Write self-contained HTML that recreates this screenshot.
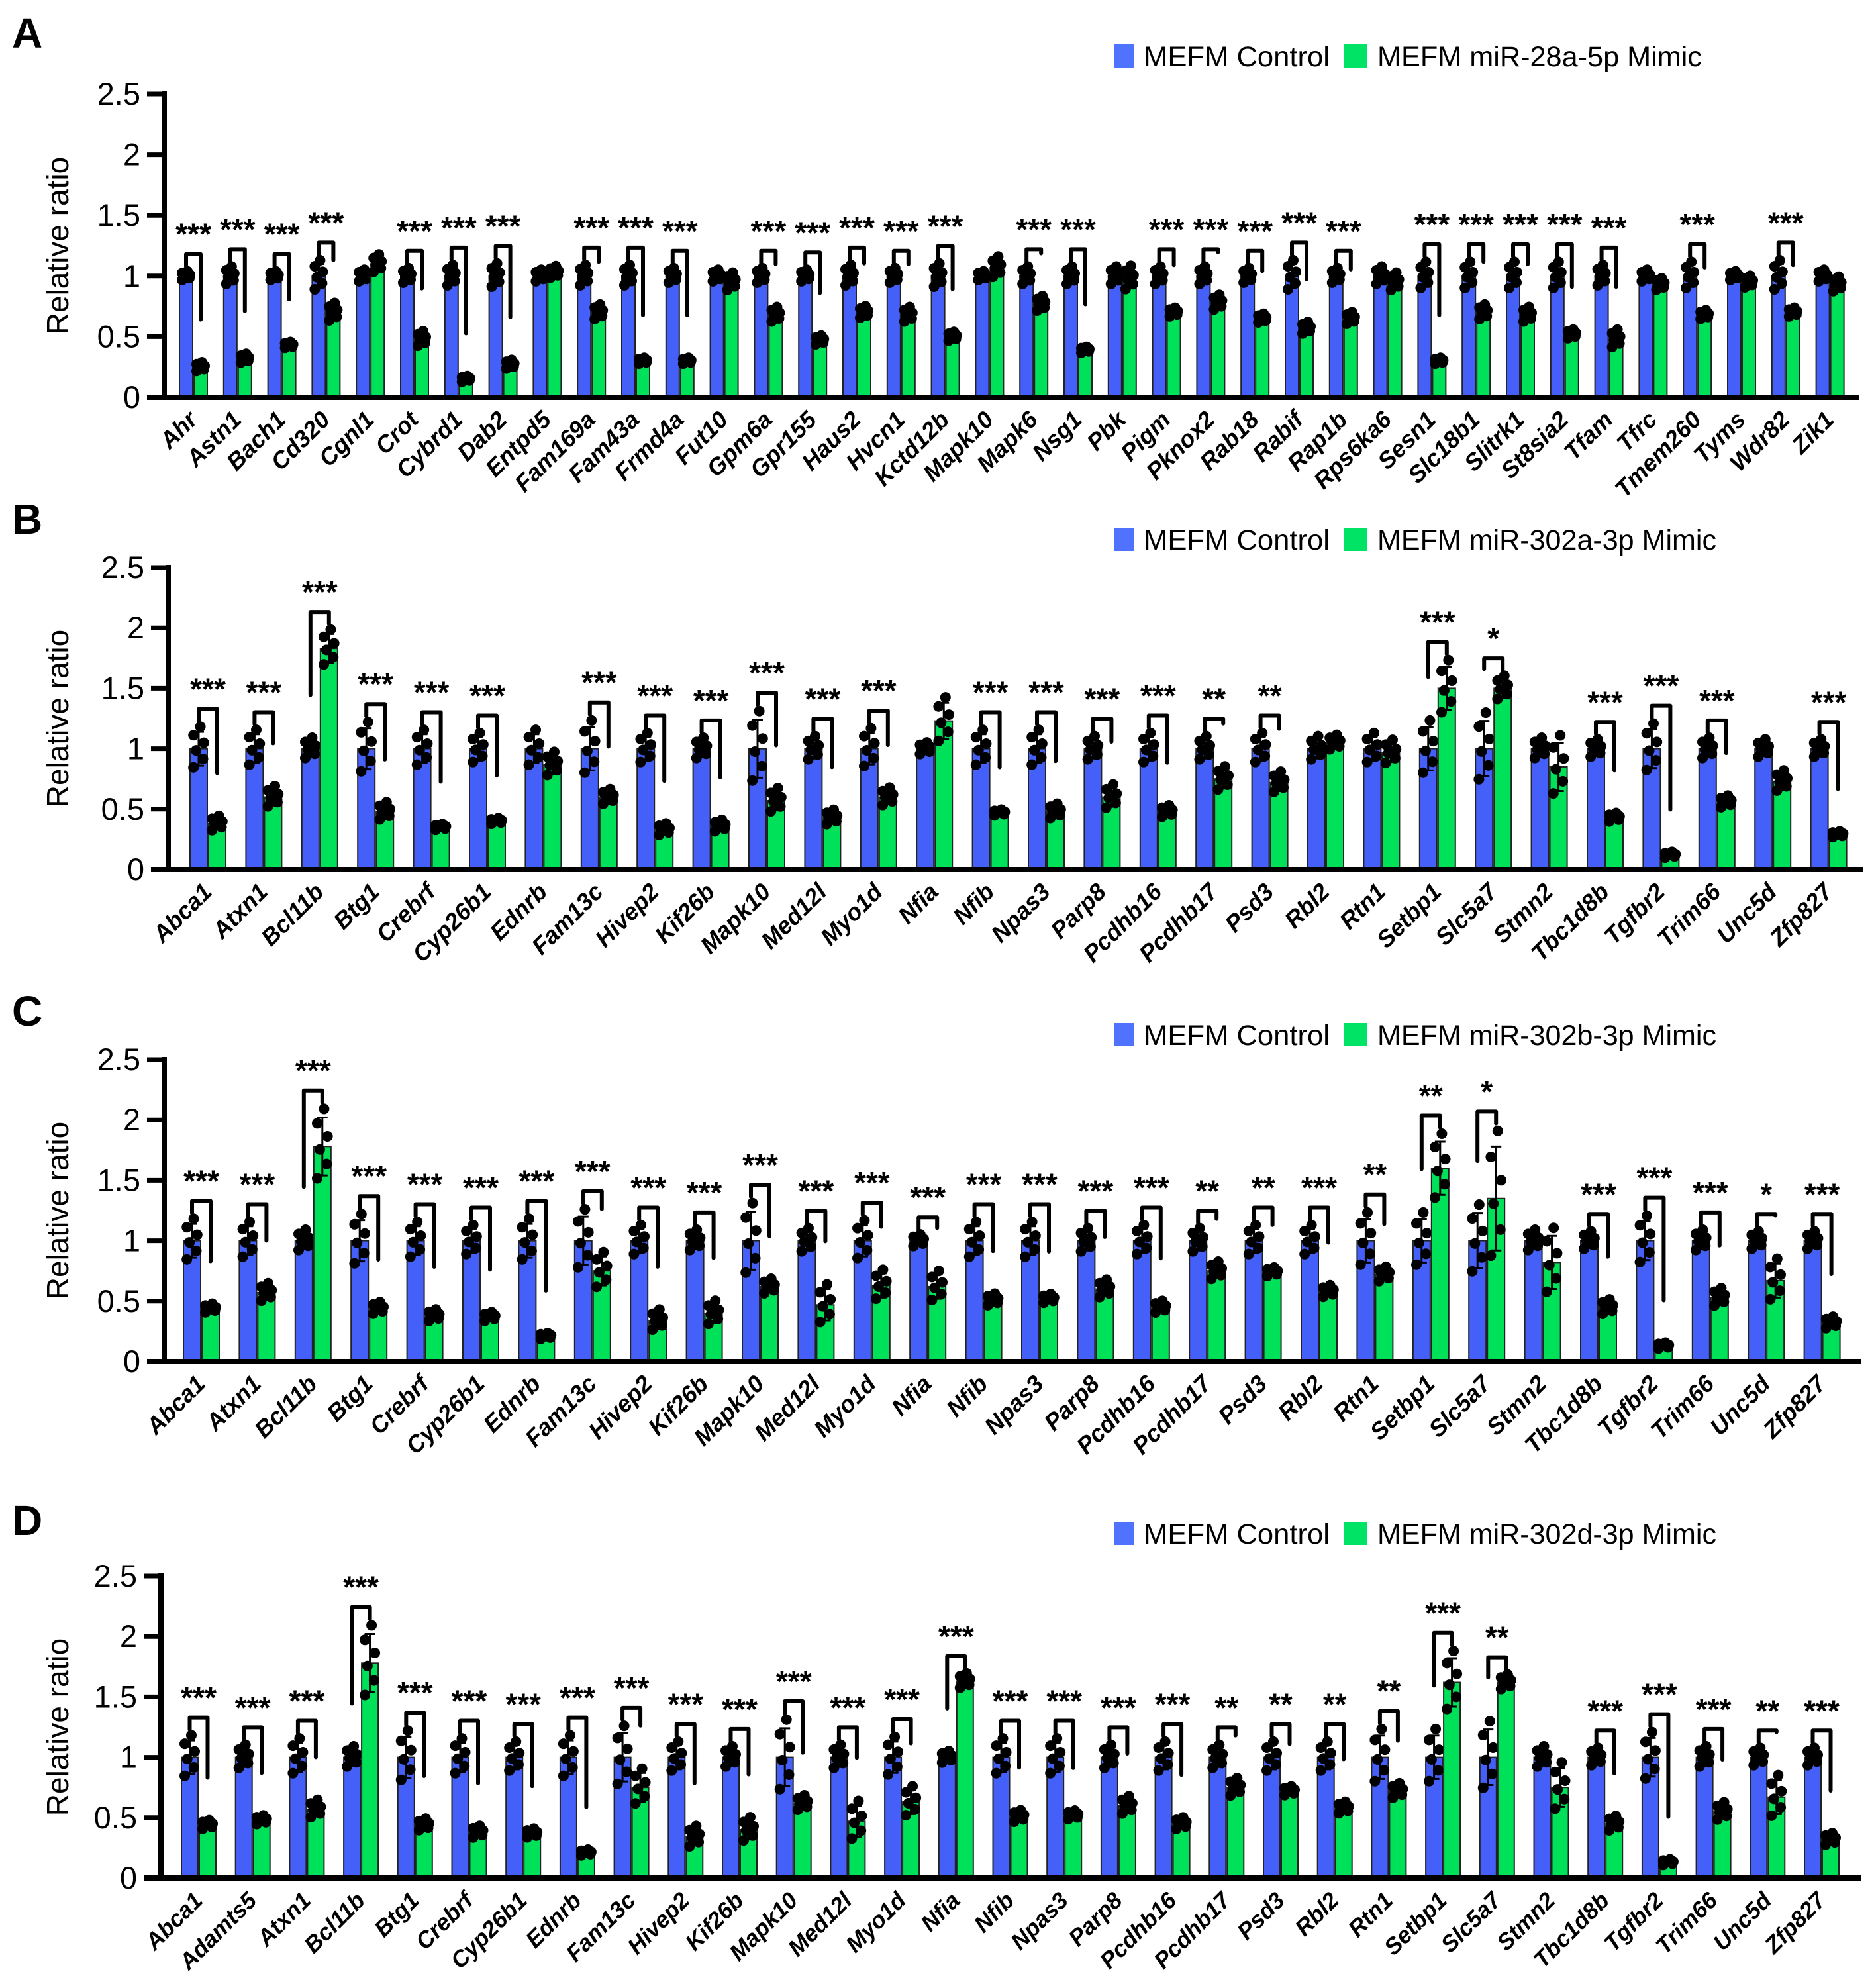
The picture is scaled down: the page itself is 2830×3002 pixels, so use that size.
<!DOCTYPE html>
<html><head><meta charset="utf-8">
<style>
html,body{margin:0;padding:0;background:#fff;}
svg{display:block;}
text{font-family:"Liberation Sans",Arial,sans-serif;}
</style></head>
<body>
<svg id="fig" width="2830" height="3002" viewBox="0 0 2830 3002" xmlns="http://www.w3.org/2000/svg"></svg>
<script>
// ---------- Panel A data ----------
const aGenes=["Ahr","Astn1","Bach1","Cd320","Cgnl1","Crot","Cybrd1","Dab2","Entpd5","Fam169a","Fam43a","Frmd4a","Fut10","Gpm6a","Gpr155","Haus2","Hvcn1","Kctd12b","Mapk10","Mapk6","Nsg1","Pbk","Pigm","Pknox2","Rab18","Rabif","Rap1b","Rps6ka6","Sesn1","Slc18b1","Slitrk1","St8sia2","Tfam","Tfrc","Tmem260","Tyms","Wdr82","Zik1"];
const aCtrl=[1,1,1,1,1,1,1,1,1,1,1,1,1,1,1,1,1,1,1,1,1,1,1,1,1,1,1,1,1,1,1,1,1,1,1,1,1,1];
const aCtrlSd=[0.03,0.06,0.03,0.1,0.04,0.05,0.07,0.08,0.04,0.07,0.07,0.05,0.04,0.05,0.04,0.07,0.05,0.08,0.03,0.06,0.06,0.06,0.06,0.06,0.05,0.1,0.05,0.06,0.09,0.09,0.09,0.09,0.07,0.04,0.09,0.03,0.1,0.04];
const aMimic=[0.25,0.32,0.43,0.70,1.10,0.48,0.15,0.27,1.03,0.70,0.30,0.30,0.95,0.68,0.47,0.70,0.68,0.50,1.07,0.77,0.39,0.98,0.70,0.78,0.65,0.57,0.65,0.95,0.30,0.70,0.68,0.52,0.48,0.93,0.68,0.95,0.70,0.93];
const aMimicSd=[0.03,0.03,0.02,0.06,0.06,0.05,0.02,0.03,0.04,0.05,0.02,0.02,0.06,0.05,0.03,0.04,0.05,0.03,0.07,0.05,0.02,0.08,0.03,0.05,0.03,0.04,0.04,0.06,0.02,0.05,0.05,0.03,0.06,0.04,0.03,0.04,0.03,0.05];
const aSig=["***","***","***","***","","***","***","***","","***","***","***","","***","***","***","***","***","","***","***","","***","***","***","***","***","","***","***","***","***","***","","***","","***",""];

// ---------- Panel B data ----------
const bGenes=["Abca1","Atxn1","Bcl11b","Btg1","Crebrf","Cyp26b1","Ednrb","Fam13c","Hivep2","Kif26b","Mapk10","Med12l","Myo1d","Nfia","Nfib","Npas3","Parp8","Pcdhb16","Pcdhb17","Psd3","Rbl2","Rtn1","Setbp1","Slc5a7","Stmn2","Tbc1d8b","Tgfbr2","Trim66","Unc5d","Zfp827"];
const bCtrl=[1,1,1,1,1,1,1,1,1,1,1,1,1,1,1,1,1,1,1,1,1,1,1,1,1,1,1,1,1,1];
const bCtrlSd=[0.14,0.12,0.07,0.17,0.12,0.1,0.12,0.18,0.1,0.07,0.24,0.08,0.13,0.04,0.12,0.12,0.08,0.1,0.08,0.1,0.08,0.1,0.18,0.23,0.07,0.06,0.16,0.07,0.06,0.06];
const bMimic=[0.38,0.60,1.83,0.48,0.35,0.40,0.87,0.60,0.33,0.36,0.57,0.43,0.60,1.23,0.47,0.48,0.60,0.48,0.75,0.72,1.05,0.97,1.50,1.50,0.85,0.43,0.12,0.56,0.73,0.29];
const bMimicSd=[0.05,0.07,0.12,0.06,0.02,0.02,0.08,0.05,0.04,0.04,0.08,0.05,0.06,0.15,0.02,0.05,0.08,0.04,0.08,0.07,0.05,0.08,0.18,0.08,0.2,0.03,0.02,0.04,0.07,0.02];
const bSig=["***","***","***","***","***","***","","***","***","***","***","***","***","","***","***","***","***","**","**","","","***","*","","***","***","***","","***"];

// ---------- Panel C data ----------
const cGenes=["Abca1","Atxn1","Bcl11b","Btg1","Crebrf","Cyp26b1","Ednrb","Fam13c","Hivep2","Kif26b","Mapk10","Med12l","Myo1d","Nfia","Nfib","Npas3","Parp8","Pcdhb16","Pcdhb17","Psd3","Rbl2","Rtn1","Setbp1","Slc5a7","Stmn2","Tbc1d8b","Tgfbr2","Trim66","Unc5d","Zfp827"];
const cCtrl=[1,1,1,1,1,1,1,1,1,1,1,1,1,1,1,1,1,1,1,1,1,1,1,1,1,1,1,1,1,1];
const cCtrlSd=[0.14,0.12,0.07,0.17,0.12,0.1,0.14,0.2,0.1,0.07,0.24,0.08,0.13,0.04,0.12,0.12,0.08,0.1,0.08,0.1,0.1,0.18,0.18,0.23,0.07,0.06,0.16,0.07,0.06,0.06];
const cMimic=[0.44,0.57,1.78,0.44,0.38,0.37,0.21,0.75,0.34,0.40,0.62,0.47,0.63,0.62,0.51,0.52,0.60,0.45,0.75,0.74,0.58,0.72,1.60,1.35,0.82,0.45,0.13,0.53,0.67,0.32];
const cMimicSd=[0.03,0.06,0.24,0.04,0.04,0.03,0.02,0.12,0.07,0.08,0.05,0.13,0.1,0.1,0.04,0.03,0.06,0.04,0.06,0.03,0.04,0.05,0.22,0.43,0.22,0.05,0.02,0.06,0.14,0.04];
const cSig=["***","***","***","***","***","***","***","***","***","***","***","***","***","***","***","***","***","***","**","**","***","**","**","*","","***","***","***","*","***"];

// ---------- Panel D data ----------
const dGenes=["Abca1","Adamts5","Atxn1","Bcl11b","Btg1","Crebrf","Cyp26b1","Ednrb","Fam13c","Hivep2","Kif26b","Mapk10","Med12l","Myo1d","Nfia","Nfib","Npas3","Parp8","Pcdhb16","Pcdhb17","Psd3","Rbl2","Rtn1","Setbp1","Slc5a7","Stmn2","Tbc1d8b","Tgfbr2","Trim66","Unc5d","Zfp827"];
const dCtrl=[1,1,1,1,1,1,1,1,1,1,1,1,1,1,1,1,1,1,1,1,1,1,1,1,1,1,1,1,1,1,1];
const dCtrlSd=[0.14,0.08,0.12,0.07,0.17,0.12,0.1,0.14,0.2,0.1,0.07,0.24,0.08,0.13,0.04,0.12,0.12,0.08,0.1,0.08,0.1,0.1,0.18,0.18,0.23,0.07,0.06,0.16,0.07,0.06,0.06];
const dMimic=[0.44,0.48,0.57,1.78,0.44,0.38,0.37,0.21,0.75,0.34,0.40,0.62,0.47,0.63,1.63,0.51,0.52,0.60,0.45,0.75,0.72,0.58,0.72,1.62,1.62,0.75,0.45,0.13,0.55,0.67,0.32];
const dMimicSd=[0.03,0.03,0.06,0.24,0.04,0.04,0.03,0.02,0.12,0.07,0.08,0.05,0.13,0.1,0.05,0.04,0.03,0.06,0.04,0.06,0.03,0.04,0.05,0.2,0.05,0.16,0.05,0.02,0.06,0.14,0.04];
const dSig=["***","***","***","***","***","***","***","***","***","***","***","***","***","***","***","***","***","***","***","**","**","**","**","***","**","","***","***","***","**","***"];

const yTicks=[0,0.5,1,1.5,2,2.5];
const yTickLabels=["0","0.5","1","1.5","2","2.5"];

const NS="http://www.w3.org/2000/svg";
const svg=document.getElementById('fig');
function mk(tag,attrs,parent){const e=document.createElementNS(NS,tag);for(const k in attrs)e.setAttribute(k,attrs[k]);(parent||svg).appendChild(e);return e;}
const BLUE="#4560F8",GREEN="#00E15A";
const dotPattern=[[-0.3,-1.1],[0.25,-0.6],[-0.15,-0.1],[0.3,0.35],[-0.3,0.8],[0.1,1.3]];

function drawPanel(p){
  const g=mk('g',{});
  
  
  const yS=v=>p.y0-(p.y0-p.yTop)*v/2.5;
  const xS=i=>p.first+i*p.step;
  const L=mk('text',{x:18,y:p.letterY,'font-size':64,'font-weight':'bold'},g);L.textContent=p.letter;
  
  
  const lg=mk('g',{},g);
  
  
  const r1=mk('rect',{x:1683,y:p.legY,width:30,height:35,fill:"#4F72FF"},lg);
  
  
  const t1=mk('text',{x:1727,y:p.legY+33,'font-size':43,textLength:281,lengthAdjust:'spacingAndGlyphs'},lg);t1.textContent="MEFM Control";
  
  
  const r2=mk('rect',{x:2030,y:p.legY,width:34,height:35,fill:"#00E364"},lg);
  
  
  const t2=mk('text',{x:2080,y:p.legY+33,'font-size':43,textLength:p.legW,lengthAdjust:'spacingAndGlyphs'},lg);t2.textContent=p.mimicName;
  
  
  const yt=mk('text',{x:0,y:0,'font-size':46,'text-anchor':'middle',transform:`translate(103,${(p.y0+p.yTop)/2}) rotate(-90)`},g);yt.textContent="Relative ratio";
  
  
  yTicks.forEach((v,i)=>{
    const tk=mk('line',{x1:p.axisX-26,x2:p.axisX,y1:yS(v),y2:yS(v),stroke:'#000','stroke-width':7},g);
    
    
    const tl=mk('text',{x:p.axisX-36,y:yS(v)+16,'font-size':47,'text-anchor':'end'},g);tl.textContent=yTickLabels[i];
    
    
  });
  const w=p.barW;
  p.genes.forEach((gn,i)=>{
    const x=xS(i);
    const series=[[p.ctrl[i],p.ctrlSd[i],BLUE,x],[p.mimic[i],p.mimicSd[i],GREEN,x+w+2]];
    series.forEach((s,k)=>{
      const [m,sd,col,bx]=s;
      const b=mk('rect',{x:bx,y:yS(m),width:w,height:p.y0-yS(m),fill:col,stroke:'#222','stroke-width':2},g);
      
      
      const cx=bx+w/2;
      const eb=mk('path',{d:`M${cx},${yS(m-sd)}V${yS(m+sd)}M${cx-8},${yS(m+sd)}H${cx+8}M${cx-8},${yS(m-sd)}H${cx+8}`,stroke:'#000','stroke-width':3,fill:'none'},g);
      
      
      dotPattern.forEach(d=>{
        const c=mk('circle',{cx:cx+d[0]*w,cy:yS(m+d[1]*sd),r:p.dotR,fill:'#000'},g);
        
        
      });
    });
    if(p.sig[i]){
      const cb=x+w/2, cg=x+w+2+w/2;
      const topB=p.ctrl[i]+1.35*p.ctrlSd[i], topG=p.mimic[i]+1.35*p.mimicSd[i];
      const mx=Math.max(topB,topG);
      const top=mx+0.14;
      const legB=topB>=topG?topB+0.04:topB+0.35;
      const legG=topG>topB?topG+0.04:topG+0.35;
      const br=mk('path',{d:`M${cb},${yS(legB)}V${yS(top)}H${cg}V${yS(legG)}`,stroke:'#000','stroke-width':6,fill:'none','stroke-linejoin':'round','stroke-linecap':'round'},g);
      
      
      const st=mk('text',{x:(cb+cg)/2,y:yS(top)-14,'font-size':46,'font-weight':'bold','text-anchor':'middle'},g);st.textContent=p.sig[i];
      
      
    }
    const lx=x+w+1+8, ly=p.y0+36;
    const gl=mk('text',{x:lx,y:ly,'font-size':p.labelSize,'font-weight':'bold','font-style':'italic','text-anchor':'end',transform:`rotate(-45 ${lx} ${ly})`},g);gl.textContent=gn;
    
    
  });
  const ya=mk('line',{x1:p.axisX,x2:p.axisX,y1:p.yTop-4,y2:p.y0+4,stroke:'#000','stroke-width':8},g);
  
  
  const xa=mk('line',{x1:p.axisX-26,x2:p.axisEnd,y1:p.y0,y2:p.y0,stroke:'#000','stroke-width':8},g);
  
  
}

drawPanel({letter:'A',letterY:72,legY:67,legW:490,mimicName:'MEFM miR-28a-5p Mimic',axisX:248,yTop:142,y0:600,first:271,step:66.8,barW:20,axisEnd:2808,dotR:8,labelSize:36,genes:aGenes,ctrl:aCtrl,ctrlSd:aCtrlSd,mimic:aMimic,mimicSd:aMimicSd,sig:aSig});
drawPanel({letter:'B',letterY:806,legY:797,legW:512,mimicName:'MEFM miR-302a-3p Mimic',axisX:254,yTop:857,y0:1313,first:287,step:84.4,barW:26,axisEnd:2814,dotR:8,labelSize:36,genes:bGenes,ctrl:bCtrl,ctrlSd:bCtrlSd,mimic:bMimic,mimicSd:bMimicSd,sig:bSig});
drawPanel({letter:'C',letterY:1549,legY:1545,legW:512,mimicName:'MEFM miR-302b-3p Mimic',axisX:248,yTop:1600,y0:2056,first:277,step:84.4,barW:26,axisEnd:2810,dotR:8,labelSize:36,genes:cGenes,ctrl:cCtrl,ctrlSd:cCtrlSd,mimic:cMimic,mimicSd:cMimicSd,sig:cSig});
drawPanel({letter:'D',letterY:2318,legY:2298,legW:512,mimicName:'MEFM miR-302d-3p Mimic',axisX:243,yTop:2380,y0:2836,first:274,step:81.7,barW:25,axisEnd:2810,dotR:8,labelSize:35,genes:dGenes,ctrl:dCtrl,ctrlSd:dCtrlSd,mimic:dMimic,mimicSd:dMimicSd,sig:dSig});
</script>
</body></html>
